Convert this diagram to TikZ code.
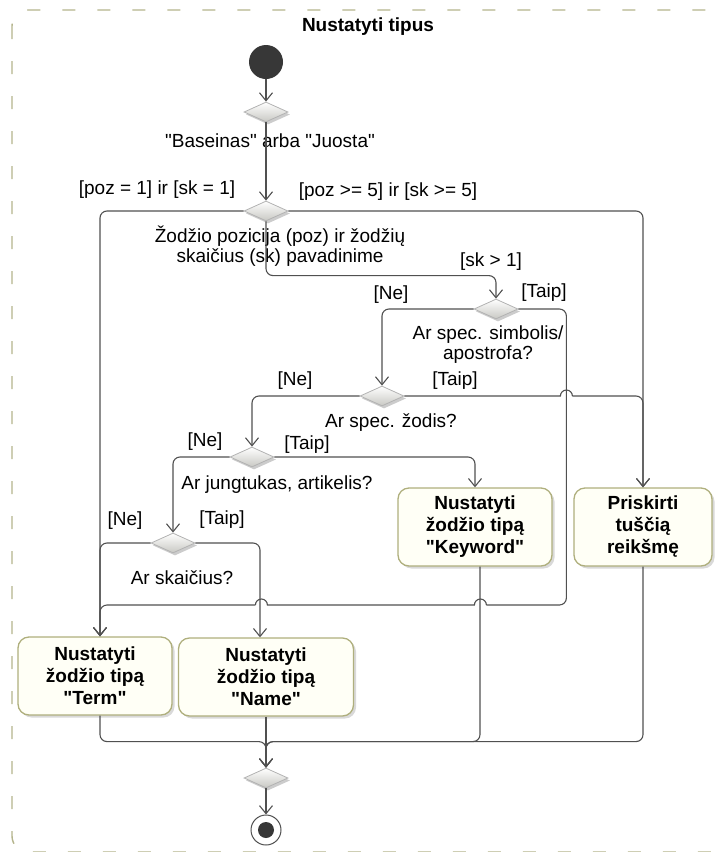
\documentclass[tikz,border=0pt]{standalone}
\usepackage{fontspec}
\setmainfont{Liberation Sans}[Ligatures=TeXOff]
\usetikzlibrary{arrows.meta,positioning,calc,shapes.geometric,shadows}
\definecolor{flowline}{RGB}{80,80,80}
\definecolor{framedash}{RGB}{180,180,140}
\definecolor{actline}{RGB}{175,175,125}
\definecolor{actfill}{RGB}{255,255,246}
\definecolor{diafill}{RGB}{200,200,195}
\definecolor{startfill}{RGB}{55,55,55}
\newcommand{\guard}[3]{\node[guardtext] (#1) at #2 {#3};}
\newcommand{\hopright}{arc[start angle=180,end angle=0,radius=6pt]}
\newcommand{\hopleft}{arc[start angle=0,end angle=180,radius=6pt]}
\tikzset{
  link/.style={draw=flowline,line width=1.1pt},
  flow/.style={link,rounded corners=7pt,-{Straight Barb[length=8pt,width=13pt]}},
  bendline/.style={link,rounded corners=7pt},
  decision/.style={diamond,draw=gray!60,line width=0.8pt,top color=white,bottom color=diafill,
    minimum width=44pt,minimum height=20pt,inner sep=0pt,
    drop shadow={shadow xshift=2pt,shadow yshift=-2.5pt,opacity=0.4,fill=gray}},
  action/.style={rectangle,rounded corners=11pt,draw=actline,line width=1.3pt,fill=actfill,
    font=\fontsize{19}{22}\selectfont\bfseries,align=center,inner sep=0pt,minimum height=78pt,
    drop shadow={shadow xshift=2.5pt,shadow yshift=-2.5pt,opacity=0.3,fill=gray}},
  guardtext/.style={font=\fontsize{19}{20}\selectfont,inner sep=0pt,align=center},
  startnode/.style={circle,fill=startfill,minimum size=34pt,inner sep=0pt},
  endnode/.style={circle,draw=flowline,line width=1pt,fill=white,minimum size=30pt,inner sep=0pt},
}
\begin{document}
\begin{tikzpicture}[x=1pt,y=-1pt]
  \clip (0,0) rectangle (715,852);
  \draw[framedash,line width=1.4pt,dash pattern=on 13pt off 22pt,rounded corners=16pt] (12,10) rectangle (760,852);
  \node[font=\fontsize{19}{20}\selectfont\bfseries] (title) at (368,27) {Nustatyti tipus};

  \node[startnode] (start) at (266,62) {};
  \node[decision] (d1) at (266,112) {};
  \node[decision] (d2) at (266,211) {};
  \node[decision] (d3) at (496,309) {};
  \node[decision] (d4) at (382,396) {};
  \node[decision] (d5) at (252,457) {};
  \node[decision] (d6) at (173,543) {};
  \node[decision] (merge) at (266,778) {};
  \node[endnode] (final) at (266,830) {};
  \fill[startfill] (final.center) circle (8pt);

  \node[action,minimum width=154pt] (term) at (95,676) {Nustatyti\\žodžio tipą\\"Term"};
  \node[action,minimum width=175pt] (name) at (266,677) {Nustatyti\\žodžio tipą\\"Name"};
  \node[action,minimum width=154pt] (keyword) at (475,527) {Nustatyti\\žodžio tipą\\"Keyword"};
  \node[action,minimum width=138pt] (empty) at (643,527) {Priskirti\\tuščią\\reikšmę};

  \guard{n1}{(270,141)}{"Baseinas" arba "Juosta"}
  \guard{g1}{(157,190)}{[poz = 1] ir [sk = 1]}
  \guard{g2}{(388,192)}{[poz >= 5] ir [sk >= 5]}
  \guard{n2}{(280,246)}{Žodžio pozicija (poz) ir žodžių\\skaičius (sk) pavadinime}
  \guard{g3}{(491,262)}{[sk > 1]}
  \guard{g4}{(391,295)}{[Ne]}
  \guard{g5}{(544,293)}{[Taip]}
  \guard{n3}{(488,345)}{Ar spec. simbolis/\\apostrofa?}
  \guard{g6}{(295,381)}{[Ne]}
  \guard{g7}{(455,381)}{[Taip]}
  \guard{n4}{(391,423)}{Ar spec. žodis?}
  \guard{g8}{(205,442)}{[Ne]}
  \guard{g9}{(307,445)}{[Taip]}
  \guard{n5}{(277,485)}{Ar jungtukas, artikelis?}
  \guard{g10}{(125,521)}{[Ne]}
  \guard{g11}{(222,520)}{[Taip]}
  \guard{n6}{(182,578)}{Ar skaičius?}

  \draw[flow] (start) -- (d1.north);
  \draw[flow] (d1.south) -- (d2.north);
  \draw[flow] (d2.west) -| ([xshift=5pt]term.north);
  \draw[flow] (d2.east) -| (empty.north);
  \draw[flow] (d2.south) |- ([yshift=23pt]d3.north) -- (d3.north);
  \draw[flow] (d3.west) -| (d4.north);
  \draw[bendline] (d3.east) -| ++(48,296) -- ++(-80,0) coordinate (hopk);
  \draw[link] (hopk) \hopleft -- ++(-207,0) \hopleft coordinate (hopn);
  \draw[flow] (hopn) -| ([xshift=5pt]term.north);
  \draw[link] (d4.east) -- ++(156,0) \hopright coordinate (hops);
  \draw[flow] (hops) -| (empty.north);
  \draw[flow] (d4.west) -| (d5.north);
  \draw[flow] (d5.east) -| (keyword.north);
  \draw[flow] (d5.west) -| (d6.north);
  \draw[flow] (d6.west) -| ([xshift=5pt]term.north);
  \draw[flow] (d6.east) -| ([xshift=-6pt]name.north);
  \draw[flow] ([xshift=5pt]term.south) |- ([yshift=26pt]merge.north) -- (merge.north);
  \draw[flow] (name.south) -- (merge.north);
  \draw[flow] ([xshift=5pt]keyword.south) |- ([yshift=26pt]merge.north) -- (merge.north);
  \draw[flow] (empty.south) |- ([yshift=26pt]merge.north) -- (merge.north);
  \draw[flow] (merge.south) -- (final.north);
\end{tikzpicture}
\end{document}
